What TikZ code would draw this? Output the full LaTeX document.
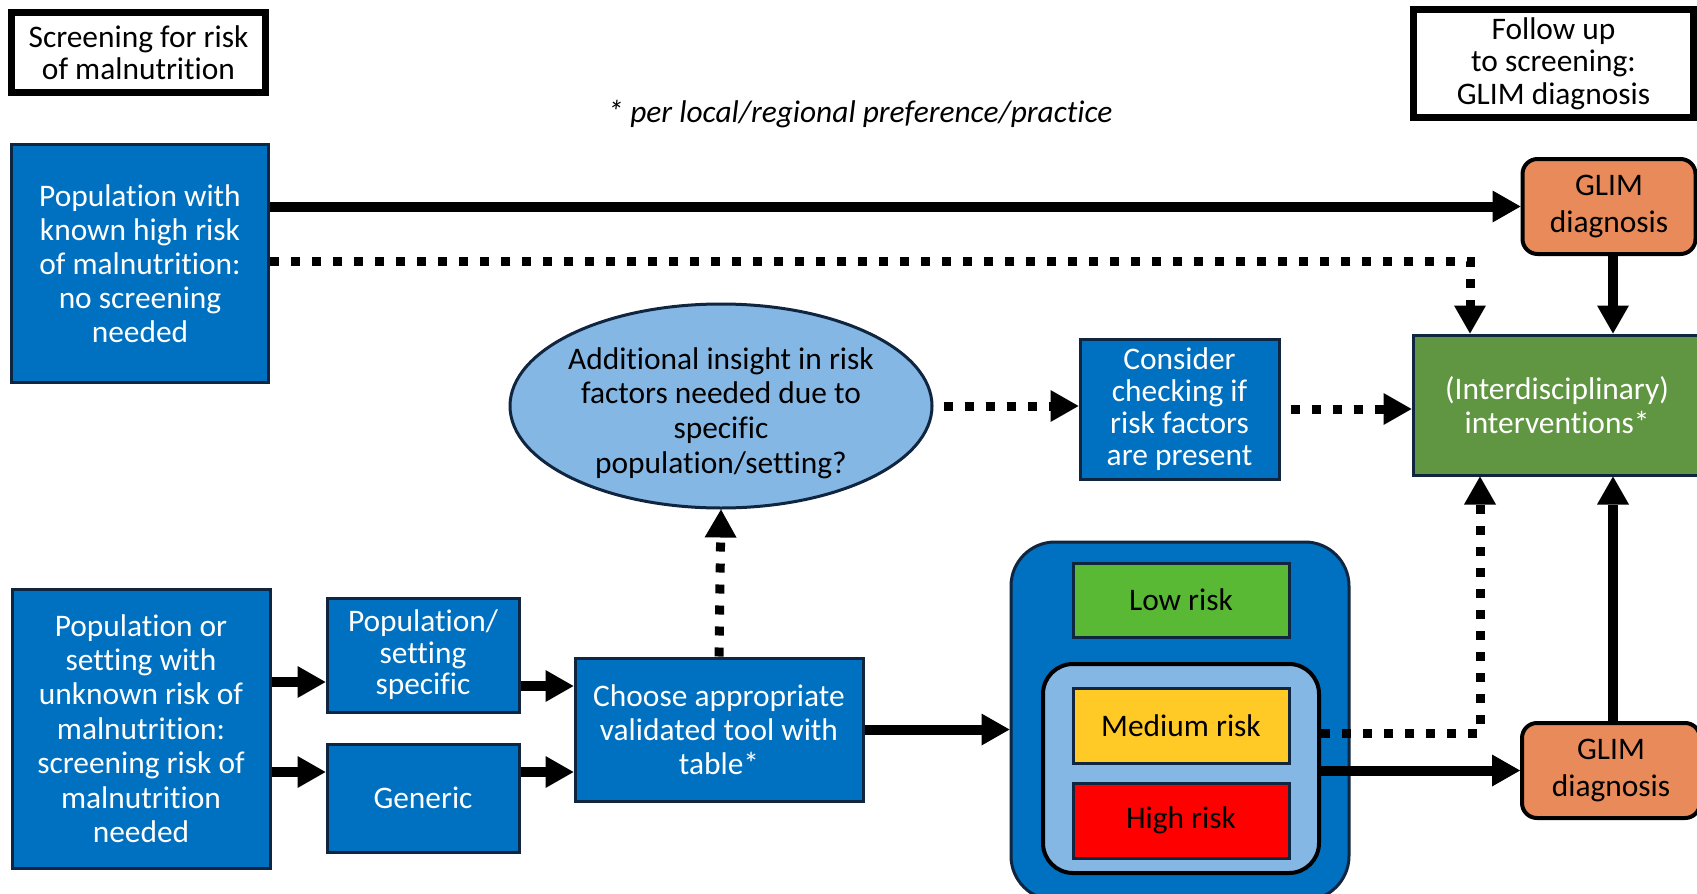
\documentclass[tikz,border=0pt]{standalone}
\usepackage{fontspec}
\setmainfont{Carlito}[Ligatures={NoCommon}]
\usetikzlibrary{arrows.meta,shapes.geometric}
\definecolor{cblue}{RGB}{0,112,192}
\definecolor{cnavy}{RGB}{16,37,63}
\definecolor{clight}{RGB}{133,183,228}
\definecolor{cgreen}{RGB}{96,150,65}
\definecolor{corange}{RGB}{232,138,90}
\definecolor{clow}{RGB}{89,185,52}
\definecolor{cmed}{RGB}{255,201,38}
\definecolor{chigh}{RGB}{255,0,0}
\tikzset{
  txt/.style={font=\fontsize{15.7}{17}\selectfont, align=center, inner sep=0pt},
  bluebox/.style={txt, draw=cnavy, fill=cblue, text=white, line width=1.5pt, rectangle},
  titlebox/.style={txt, draw=black, fill=white, line width=3.5pt, font=\fontsize{15.7}{16.2}\selectfont},
  glimbox/.style={txt, draw=black, fill=corange, line width=2pt, rounded corners=7.5pt, font=\fontsize{15.7}{18.8}\selectfont},
  riskbox/.style={txt, draw=cnavy, line width=1.5pt, minimum width=108pt, minimum height=37.5pt},
  solidarrow/.style={line width=5pt, -{Triangle[length=14pt,width=16pt,line width=0pt]}},
  dotarrow/.style={line width=4.5pt, line cap=butt, dash pattern=on 4.5pt off 6pt, -{Triangle[length=14pt,width=16pt,line width=0pt]}},
}
\begin{document}
\begin{tikzpicture}[x=0.5pt,y=-0.5pt]
\useasboundingbox (0,0) rectangle (1697,894);
\fill[white] (0,0) rectangle (1697,894);

% titles
\node[titlebox, minimum width=127pt, minimum height=40pt] (t1) at (138.5,52.5) {Screening for risk\\of malnutrition};
\node[titlebox, minimum width=140pt, minimum height=54pt] (t2) at (1553.5,63.5) {Follow up\\to screening:\\GLIM diagnosis};
\node[txt, font=\fontsize{15.7}{17}\selectfont\itshape] (note) at (860,114) {* per local/regional preference/practice};

% left boxes
\node[bluebox, minimum width=128.5pt, minimum height=119pt] (box1) at (140,263.5) {Population with\\known high risk\\of malnutrition:\\no screening\\needed};
\node[bluebox, minimum width=129pt, minimum height=139.5pt, font=\fontsize{15.7}{17.2}\selectfont] (box2) at (141,728.5) {Population or\\setting with\\unknown risk of\\malnutrition:\\screening risk of\\malnutrition\\needed};
\node[bluebox, minimum width=96pt, minimum height=57pt, font=\fontsize{15.7}{15.7}\selectfont] (popset) at (423,655) {Population/\\setting\\specific};
\node[bluebox, minimum width=96pt, minimum height=54pt] (generic) at (423,798) {Generic};
\node[bluebox, minimum width=144pt, minimum height=71.5pt] (choose) at (719,729.5) {Choose appropriate\\validated tool with\\table*};

% ellipse
\node[ellipse, draw=cnavy, fill=clight, line width=1.5pt, minimum width=211pt, minimum height=102pt, inner sep=0pt] (ell) at (721,406) {};
\node[txt, font=\fontsize{15.7}{17.4}\selectfont] (elltext) at ([yshift=-3.5pt]ell.center) {Additional insight in risk\\factors needed due to\\specific\\population/setting?};

\node[bluebox, minimum width=99.5pt, minimum height=70pt, font=\fontsize{15.7}{16}\selectfont] (consider) at (1179.5,409) {Consider\\checking if\\risk factors\\are present};

% right side
\node[glimbox, minimum width=86.5pt, minimum height=47.5pt] (glim1) at (1609,206.5) {GLIM\\diagnosis};
\node[bluebox, fill=cgreen, minimum width=144pt, minimum height=70pt, font=\fontsize{15.7}{16.8}\selectfont] (green) at (1557,405) {(Interdisciplinary)\\interventions*};
\node[glimbox, minimum width=89pt, minimum height=47.5pt] (glim2) at (1611,770.5) {GLIM\\diagnosis};

% risk container
\node[draw=cnavy, fill=cblue, line width=1.5pt, rounded corners=22pt, minimum width=169pt, minimum height=179pt, inner sep=0pt] (big) at (1180,721) {};
\node[riskbox, fill=clow, minimum height=37pt] (low) at (1181,600) {Low risk};
\node[draw=black, fill=clight, line width=2pt, rounded corners=15pt, minimum width=138pt, minimum height=104.5pt, inner sep=0pt] (inner) at (1181,768.5) {};
\node[riskbox, fill=cmed] (med) at (1181,725.5) {Medium risk};
\node[riskbox, fill=chigh] (high) at (1181,820.5) {High risk};

% helper coordinates
\coordinate (yA) at (0,261);
\coordinate (xA) at (1470,0);
\coordinate (yB) at (0,733);
\coordinate (xB) at (1480,0);
\coordinate (xG) at (1613,0);
\coordinate (y1) at (0,682);
\coordinate (y2) at (0,772);
\coordinate (y3) at (0,686);

% connectors
\draw[solidarrow] (box1.east |- glim1.west) -- (glim1.west);
\draw[dotarrow] (box1.east |- yA) -| (xA |- green.north);
\draw[solidarrow] (glim1.south -| xG) -- (xG |- green.north);
\draw[dotarrow, shorten <=5pt] (ell.east) -- (ell.east -| consider.west);
\draw[dotarrow, shorten <=5pt] (consider.east) -- (consider.east -| green.west);
\draw[dotarrow] (choose.north) -- (ell.south);
\draw[solidarrow] (box2.east |- y1) -- (popset.west |- y1);
\draw[solidarrow] (box2.east |- y2) -- (generic.west |- y2);
\draw[solidarrow] (popset.east |- y3) -- (choose.west |- y3);
\draw[solidarrow] (generic.east |- y2) -- (choose.west |- y2);
\draw[solidarrow] (choose.east) -- (choose.east -| big.west);
\draw[dotarrow] (inner.east |- yB) -| (xB |- green.south);
\draw[solidarrow] (inner.east |- glim2.west) -- (glim2.west);
\draw[solidarrow] (glim2.north -| xG) -- (xG |- green.south);
\end{tikzpicture}
\end{document}
